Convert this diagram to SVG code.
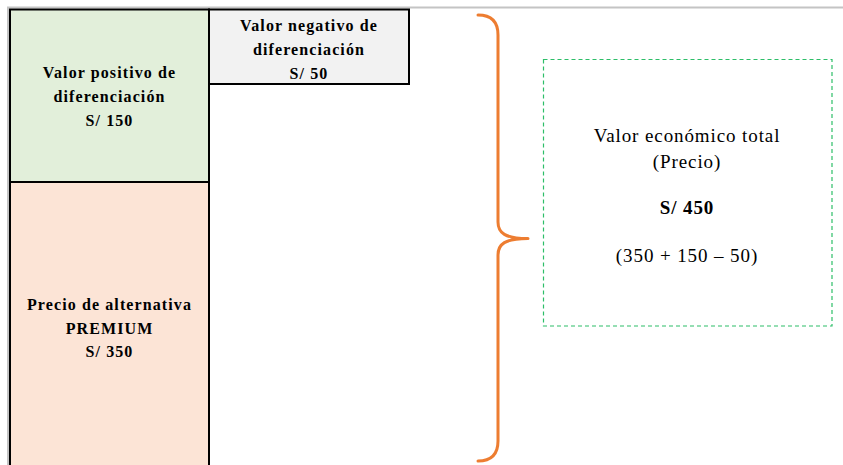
<svg xmlns="http://www.w3.org/2000/svg" width="843" height="465" viewBox="0 0 843 465">
<style>
.box{stroke:#000;stroke-width:2}
.lb{font-family:"Liberation Serif","Times New Roman",serif;font-weight:bold;font-size:16px;letter-spacing:1.1px;text-anchor:middle;fill:#000}
.rt{font-family:"Liberation Serif","Times New Roman",serif;font-size:19px;letter-spacing:0.9px;text-anchor:middle;fill:#000}
</style>
<rect width="843" height="465" fill="#fff"/>
<g id="frame" fill="none" stroke="#c4c4c4" stroke-width="2">
<line x1="7" y1="7.5" x2="843" y2="7.5"/>
<line x1="8" y1="7" x2="8" y2="465"/>
</g>
<g id="positivo">
<rect class="box" x="10" y="9.5" width="199" height="172.5" fill="#E2EFDA"/>
<text class="lb" x="109.5" y="77.5">Valor positivo de</text>
<text class="lb" x="109.5" y="101.5">diferenciación</text>
<text class="lb" x="109.5" y="125.5">S/ 150</text>
</g>
<g id="premium">
<rect class="box" x="10" y="182" width="199" height="290" fill="#FCE4D6"/>
<text class="lb" x="109.5" y="310">Precio de alternativa</text>
<text class="lb" x="109.5" y="333.5">PREMIUM</text>
<text class="lb" x="109.5" y="357">S/ 350</text>
</g>
<g id="negativo">
<rect class="box" x="209" y="9.5" width="200" height="74.5" fill="#F2F2F2"/>
<text class="lb" x="309" y="30.5">Valor negativo de</text>
<text class="lb" x="309" y="54.5">diferenciación</text>
<text class="lb" x="309" y="78.5">S/ 50</text>
</g>
<g id="connectors">
<path d="M478,15 C492,15 498,22 498,35 L498,222 C498,233 505,238.5 528,238.5 M528,238.5 C505,238.5 498,244 498,255 L498,441 C498,454 492,461 478,461" fill="none" stroke="#ED7D31" stroke-width="3" stroke-linecap="round"/>
</g>
<g id="total">
<rect x="543.5" y="59.5" width="288.5" height="266.5" fill="#fff" stroke="#2DBE68" stroke-width="1.2" stroke-dasharray="4,3"/>
<text class="rt" x="687" y="141.5">Valor económico total</text>
<text class="rt" x="687" y="168">(Precio)</text>
<text class="rt" x="687" y="214" font-weight="bold">S/ 450</text>
<text class="rt" x="687" y="261.5">(350 + 150 – 50)</text>
</g>
</svg>
